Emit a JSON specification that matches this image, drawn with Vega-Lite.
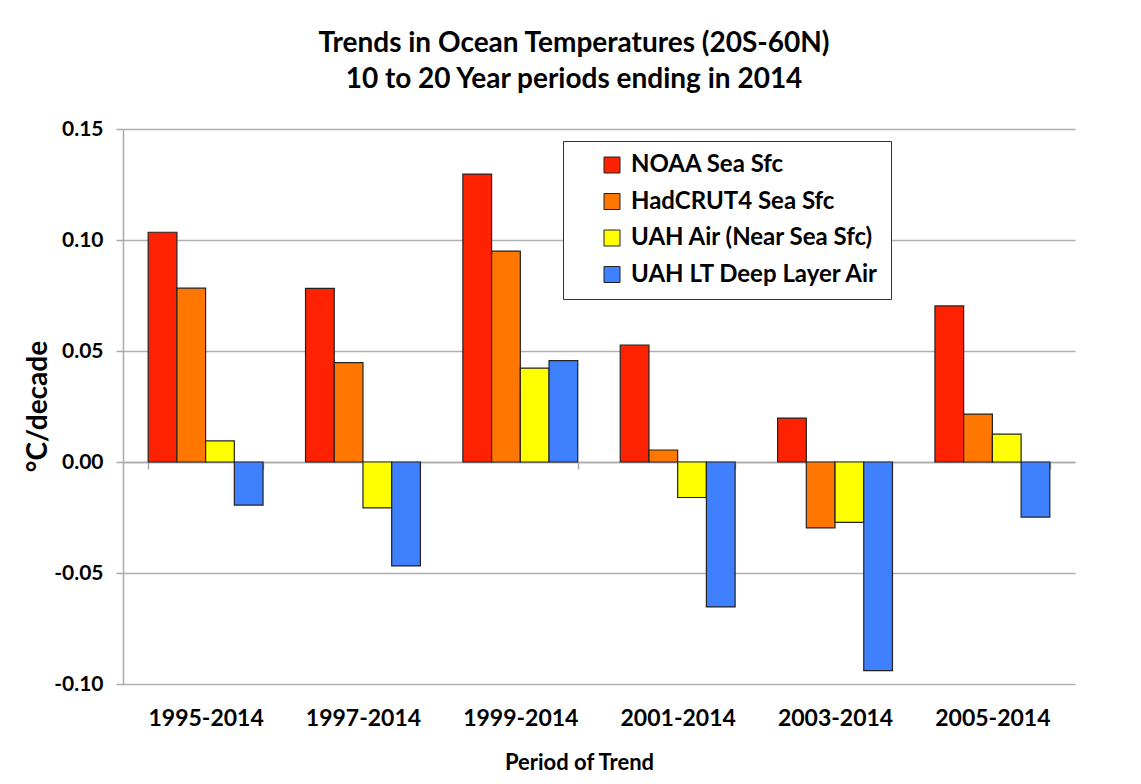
{
  "$schema": "https://vega.github.io/schema/vega-lite/v6.json",
  "autosize": "none",
  "width": 952,
  "height": 555,
  "padding": {"left": 123, "top": 129, "right": 66, "bottom": 100},
  "background": "white",
  "title": {
    "text": ["Trends in Ocean Temperatures (20S-60N)", "10 to 20 Year periods ending in 2014"],
    "font": "Lato",
    "fontSize": 28,
    "fontWeight": "bold",
    "color": "#000000",
    "anchor": "middle",
    "dx": -25,
    "offset": 24,
    "lineHeight": 36
  },
  "data": {
    "values": [
      {"period": "1995-2014", "series": "NOAA Sea Sfc", "value": 0.1035},
      {"period": "1995-2014", "series": "HadCRUT4 Sea Sfc", "value": 0.0783},
      {"period": "1995-2014", "series": "UAH Air (Near Sea Sfc)", "value": 0.0095},
      {"period": "1995-2014", "series": "UAH LT Deep Layer Air", "value": -0.0194},
      {"period": "1997-2014", "series": "NOAA Sea Sfc", "value": 0.0782},
      {"period": "1997-2014", "series": "HadCRUT4 Sea Sfc", "value": 0.0448},
      {"period": "1997-2014", "series": "UAH Air (Near Sea Sfc)", "value": -0.0207},
      {"period": "1997-2014", "series": "UAH LT Deep Layer Air", "value": -0.0468},
      {"period": "1999-2014", "series": "NOAA Sea Sfc", "value": 0.1297},
      {"period": "1999-2014", "series": "HadCRUT4 Sea Sfc", "value": 0.095},
      {"period": "1999-2014", "series": "UAH Air (Near Sea Sfc)", "value": 0.0423},
      {"period": "1999-2014", "series": "UAH LT Deep Layer Air", "value": 0.0457},
      {"period": "2001-2014", "series": "NOAA Sea Sfc", "value": 0.0527},
      {"period": "2001-2014", "series": "HadCRUT4 Sea Sfc", "value": 0.0054},
      {"period": "2001-2014", "series": "UAH Air (Near Sea Sfc)", "value": -0.0160},
      {"period": "2001-2014", "series": "UAH LT Deep Layer Air", "value": -0.0653},
      {"period": "2003-2014", "series": "NOAA Sea Sfc", "value": 0.0198},
      {"period": "2003-2014", "series": "HadCRUT4 Sea Sfc", "value": -0.0297},
      {"period": "2003-2014", "series": "UAH Air (Near Sea Sfc)", "value": -0.0272},
      {"period": "2003-2014", "series": "UAH LT Deep Layer Air", "value": -0.0940},
      {"period": "2005-2014", "series": "NOAA Sea Sfc", "value": 0.0703},
      {"period": "2005-2014", "series": "HadCRUT4 Sea Sfc", "value": 0.0216},
      {"period": "2005-2014", "series": "UAH Air (Near Sea Sfc)", "value": 0.0126},
      {"period": "2005-2014", "series": "UAH LT Deep Layer Air", "value": -0.0248}
    ]
  },
  "mark": {"type": "bar", "stroke": "#222222", "strokeWidth": 1.2, "cornerRadius": 0},
  "encoding": {
    "x": {
      "field": "period",
      "type": "nominal",
      "scale": {"paddingInner": 0.27, "paddingOuter": 0.16},
      "axis": {
        "title": "Period of Trend",
        "titleFont": "Lato",
        "titleFontSize": 22,
        "titleFontWeight": "bold",
        "titleColor": "#000000",
        "titleY": 300,
        "titleBaseline": "middle",
        "titleX": 456,
        "labelAngle": 0,
        "labelFont": "Lato",
        "labelFontSize": 23,
        "labelFontWeight": "bold",
        "labelColor": "#000000",
        "labelPadding": 238,
        "offset": -222,
        "domainColor": "#aaaaaa",
        "domainWidth": 1.5,
        "tickColor": "#aaaaaa",
        "tickWidth": 1.5,
        "tickSize": 7,
        "tickBand": "extent",
        "bandPosition": 0
      }
    },
    "xOffset": {
      "field": "series",
      "type": "nominal",
      "sort": ["NOAA Sea Sfc", "HadCRUT4 Sea Sfc", "UAH Air (Near Sea Sfc)", "UAH LT Deep Layer Air"],
      "scale": {"paddingInner": 0, "paddingOuter": 0}
    },
    "y": {
      "field": "value",
      "type": "quantitative",
      "scale": {"domain": [-0.1, 0.15], "nice": false, "zero": false},
      "axis": {
        "title": "°C/decade",
        "titleFont": "Lato",
        "titleFontSize": 28,
        "titleFontWeight": "bold",
        "titleColor": "#000000",
        "titleX": -85,
        "titleY": 277,
        "titleAngle": -90,
        "titleBaseline": "middle",
        "titleAlign": "center",
        "values": [-0.1, -0.05, 0, 0.05, 0.1, 0.15],
        "labelExpr": "replace(format(datum.value, '.2f'), '−', '-')",
        "labelFont": "Lato",
        "labelFontSize": 21,
        "labelFontWeight": "bold",
        "labelColor": "#000000",
        "labelPadding": 13,
        "domainColor": "#aaaaaa",
        "domainWidth": 1.5,
        "tickColor": "#aaaaaa",
        "tickWidth": 1.5,
        "tickSize": 7,
        "gridColor": "#b0b0b0",
        "gridWidth": 1.5
      }
    },
    "color": {
      "field": "series",
      "type": "nominal",
      "scale": {
        "domain": ["NOAA Sea Sfc", "HadCRUT4 Sea Sfc", "UAH Air (Near Sea Sfc)", "UAH LT Deep Layer Air"],
        "range": ["#ff2200", "#ff7700", "#ffff00", "#3f80ff"]
      },
      "legend": {
        "title": null,
        "orient": "none",
        "legendX": 440,
        "legendY": 12,
        "direction": "vertical",
        "fillColor": "white",
        "strokeColor": "#333333",
        "padding": 12,
        "symbolOffset": 25,
        "symbolType": "square",
        "symbolSize": 256,
        "symbolStrokeColor": "#222222",
        "symbolStrokeWidth": 1,
        "symbolOpacity": 1,
        "labelFont": "Lato",
        "labelFontSize": 24,
        "labelFontWeight": "bold",
        "labelColor": "#000000",
        "labelOffset": 7,
        "labelLimit": 400,
        "rowPadding": 12.5
      }
    }
  },
  "config": {"view": {"stroke": null}}
}
